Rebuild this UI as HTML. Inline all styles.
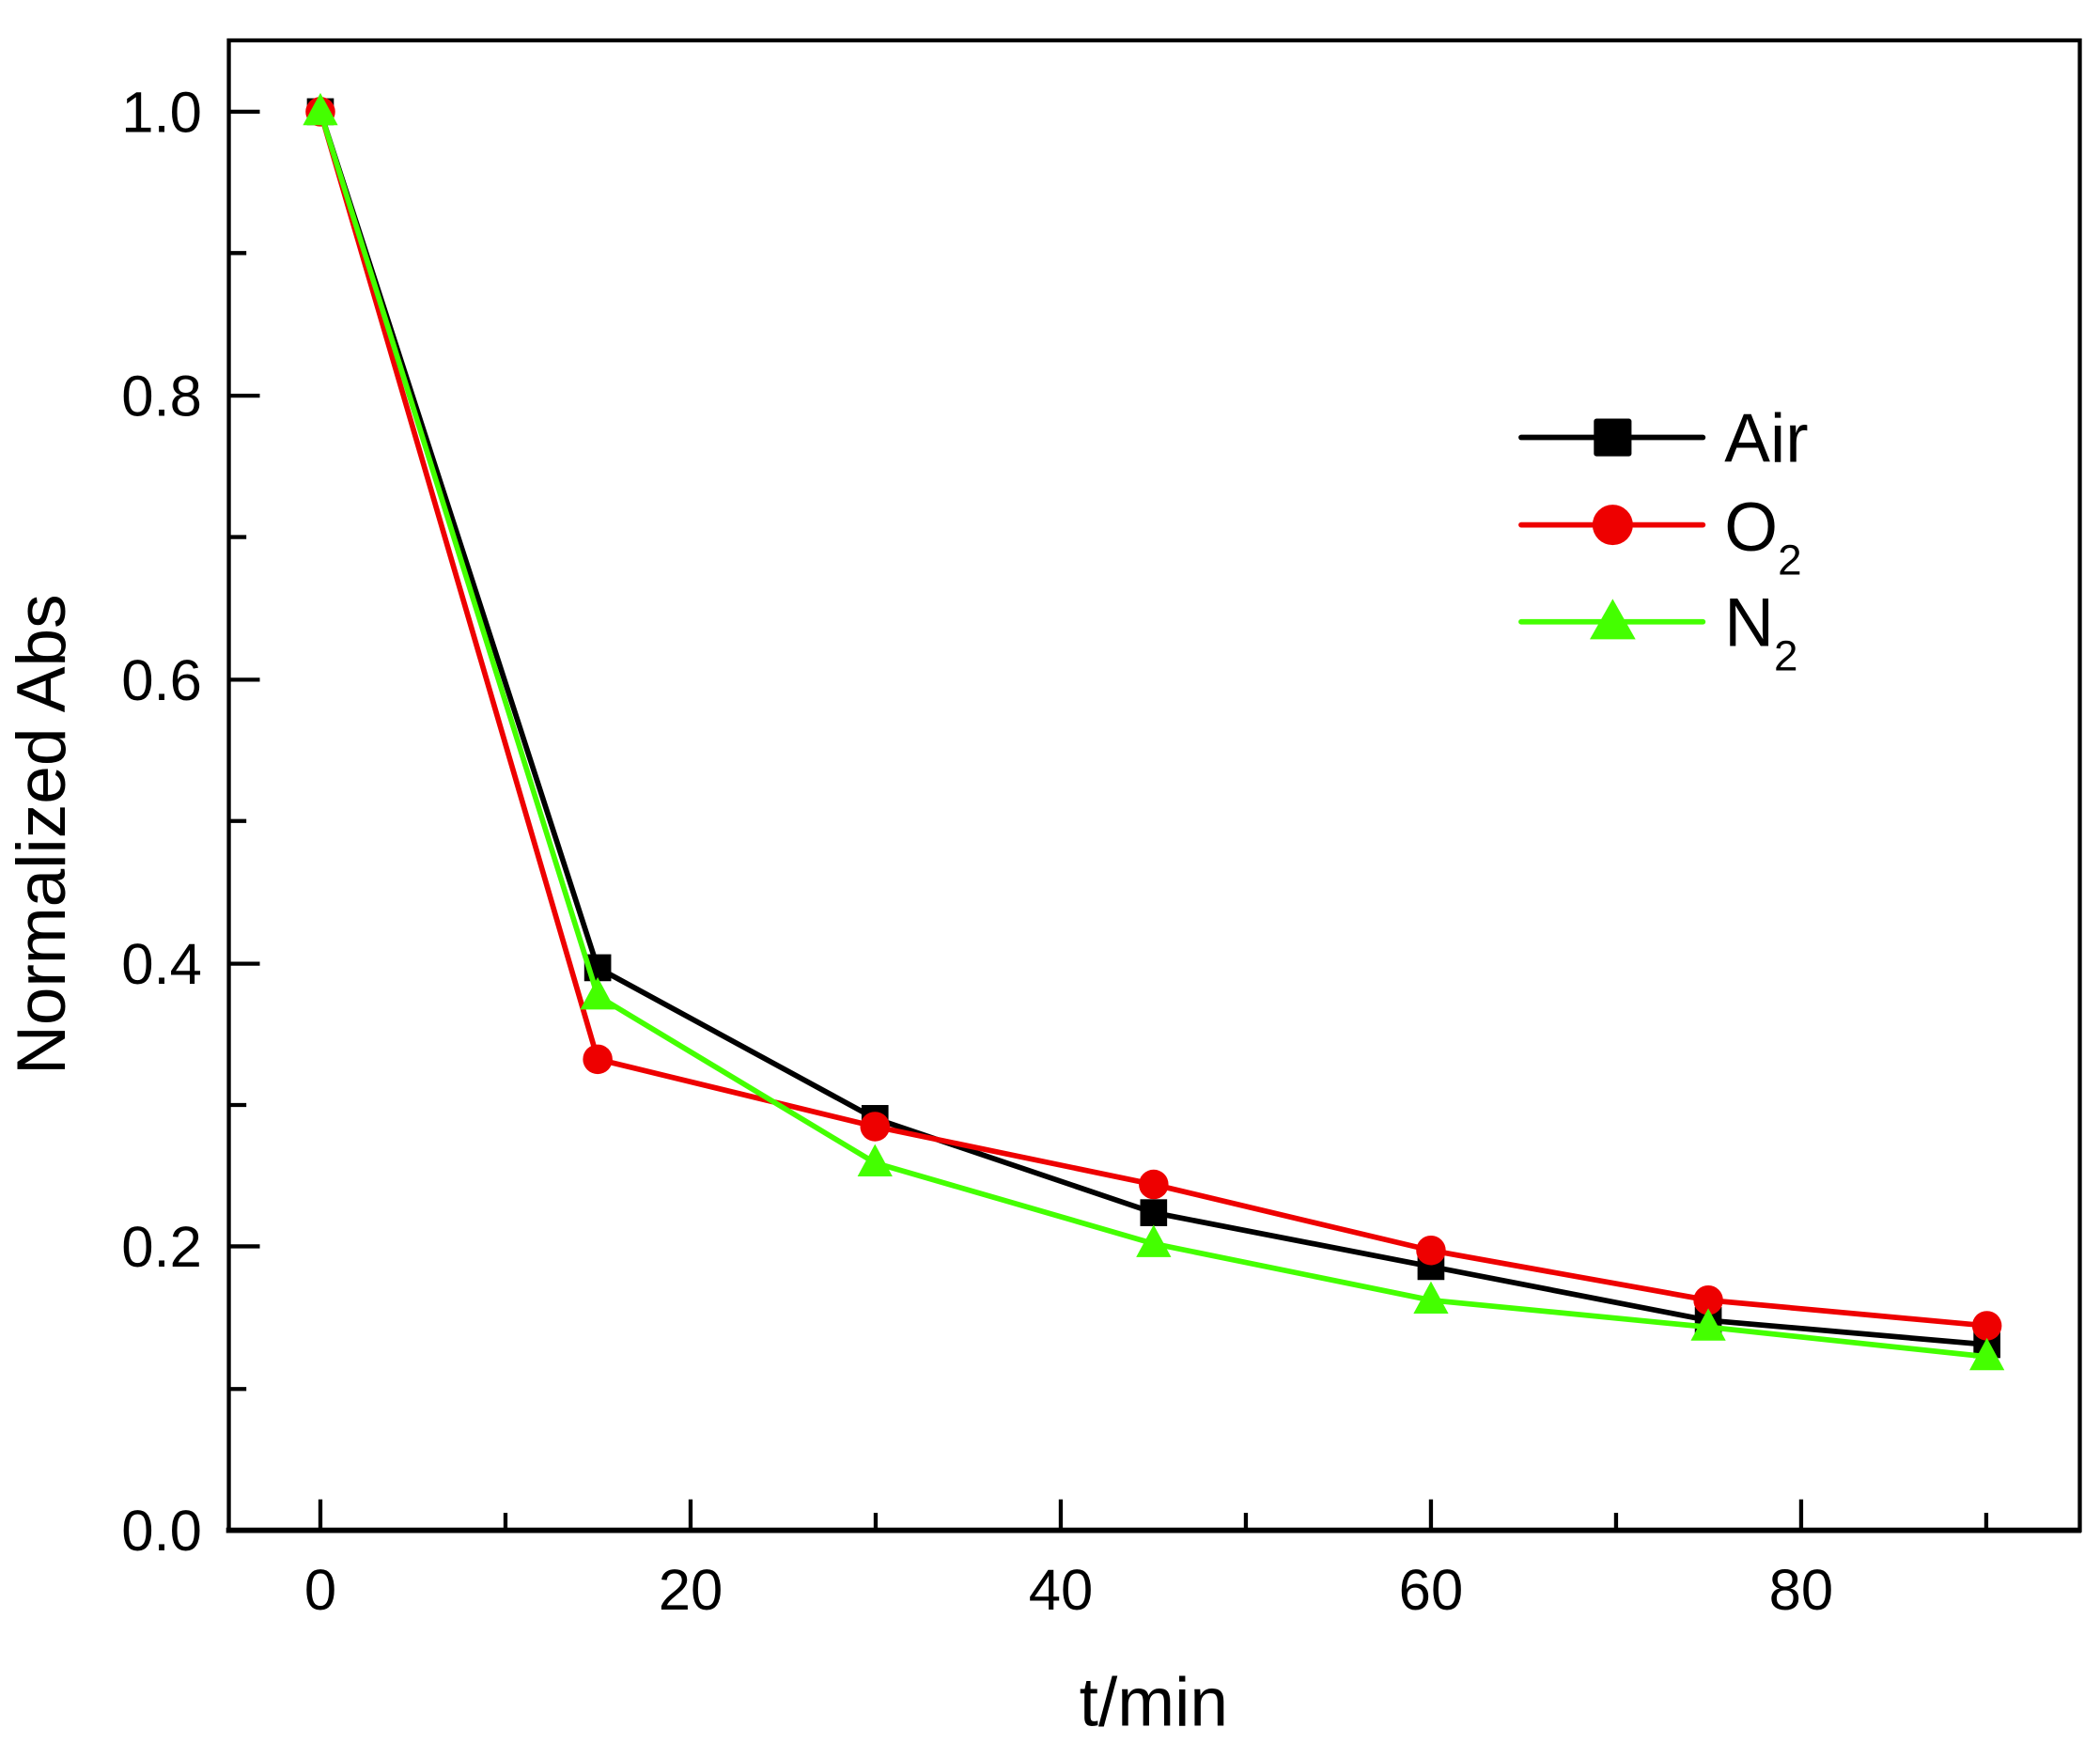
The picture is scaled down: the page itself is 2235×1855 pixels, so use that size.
<!DOCTYPE html>
<html><head><meta charset="utf-8"><style>html,body{margin:0;padding:0;background:#fff}svg{display:block}</style></head>
<body>
<svg width="2235" height="1855" viewBox="0 0 1560 1295" preserveAspectRatio="none" xmlns="http://www.w3.org/2000/svg" font-family="Liberation Sans, Arial, sans-serif">
<rect width="1560" height="1295" fill="#fff"/>
<rect x="170" y="30" width="1375" height="1107" fill="none" stroke="#000" stroke-width="3"/>
<line x1="168" y1="1137" x2="1546" y2="1137" stroke="#000" stroke-width="4"/>
<g stroke="#000" stroke-width="3">
<line x1="170" y1="83" x2="193" y2="83"/><line x1="170" y1="294" x2="193" y2="294"/><line x1="170" y1="505" x2="193" y2="505"/><line x1="170" y1="716" x2="193" y2="716"/><line x1="170" y1="926" x2="193" y2="926"/>
<line x1="170" y1="188" x2="183" y2="188"/><line x1="170" y1="399" x2="183" y2="399"/><line x1="170" y1="610" x2="183" y2="610"/><line x1="170" y1="821" x2="183" y2="821"/><line x1="170" y1="1032" x2="183" y2="1032"/>
<line x1="238" y1="1137" x2="238" y2="1114"/><line x1="513" y1="1137" x2="513" y2="1114"/><line x1="788" y1="1137" x2="788" y2="1114"/><line x1="1063" y1="1137" x2="1063" y2="1114"/><line x1="1338" y1="1137" x2="1338" y2="1114"/>
<line x1="375.5" y1="1137" x2="375.5" y2="1124"/><line x1="650.5" y1="1137" x2="650.5" y2="1124"/><line x1="925.5" y1="1137" x2="925.5" y2="1124"/><line x1="1200.5" y1="1137" x2="1200.5" y2="1124"/><line x1="1475.5" y1="1137" x2="1475.5" y2="1124"/>
</g>
<g font-size="43" fill="#000" text-anchor="end">
<text x="150" y="98">1.0</text><text x="150" y="309">0.8</text><text x="150" y="520">0.6</text><text x="150" y="731">0.4</text><text x="150" y="941">0.2</text><text x="150" y="1152">0.0</text>
</g>
<g font-size="43" fill="#000" text-anchor="middle">
<text x="238" y="1196">0</text><text x="513" y="1196">20</text><text x="788" y="1196">40</text><text x="1063" y="1196">60</text><text x="1338" y="1196">80</text>
</g>
<text x="857" y="1282" font-size="51" text-anchor="middle">t/min</text>
<text transform="translate(48,620) rotate(-90)" font-size="51" text-anchor="middle">Normalized Abs</text>
<polyline fill="none" stroke="#000" stroke-width="4" points="238,83 444,719 650,831 857,901 1063,941 1269,981 1476,999"/>
<g fill="#000">
<rect x="228" y="73" width="20" height="20"/><rect x="434" y="709" width="20" height="20"/><rect x="640" y="821" width="20" height="20"/><rect x="847" y="891" width="20" height="20"/><rect x="1053" y="931" width="20" height="20"/><rect x="1259" y="971" width="20" height="20"/><rect x="1466" y="989" width="20" height="20"/>
</g>
<polyline fill="none" stroke="#ee0000" stroke-width="4" points="238,83 444,787 650,837 857,880 1063,929 1269,966 1476,985"/>
<g fill="#ee0000">
<circle cx="238" cy="83" r="11"/><circle cx="444" cy="787" r="11"/><circle cx="650" cy="837" r="11"/><circle cx="857" cy="880" r="11"/><circle cx="1063" cy="929" r="11"/><circle cx="1269" cy="966" r="11"/><circle cx="1476" cy="985" r="11"/>
</g>
<polyline fill="none" stroke="#44ff00" stroke-width="4" points="238,83 444,740 650,864 857,924 1063,966 1269,986 1476,1008"/>
<g fill="#44ff00">
<polygon points="238,69 225,93 251,93"/><polygon points="444,726 431,750 457,750"/><polygon points="650,850 637,874 663,874"/><polygon points="857,910 844,934 870,934"/><polygon points="1063,952 1050,976 1076,976"/><polygon points="1269,972 1256,996 1282,996"/><polygon points="1476,994 1463,1018 1489,1018"/>
</g>
<line x1="1130" y1="325" x2="1265" y2="325" stroke="#000" stroke-width="4" stroke-linecap="round"/>
<rect x="1184" y="311" width="28" height="28" fill="#000" rx="2"/>
<line x1="1130" y1="390" x2="1265" y2="390" stroke="#ee0000" stroke-width="4" stroke-linecap="round"/>
<circle cx="1198" cy="390" r="15" fill="#ee0000"/>
<line x1="1130" y1="462" x2="1265" y2="462" stroke="#44ff00" stroke-width="4" stroke-linecap="round"/>
<polygon points="1198,445 1181,475 1215,475" fill="#44ff00"/>
<g font-size="51" fill="#000">
<text x="1281" y="343">Air</text>
<text x="1281" y="409">O<tspan font-size="32" dy="18">2</tspan></text>
<text x="1281" y="480">N<tspan font-size="32" dy="18">2</tspan></text>
</g>
</svg>
</body></html>
